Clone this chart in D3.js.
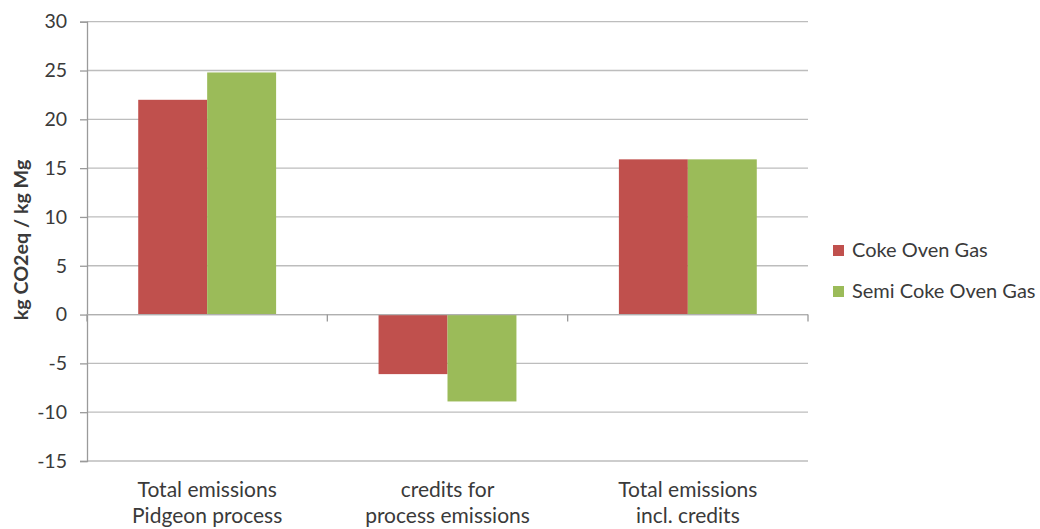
<!DOCTYPE html>
<html><head><meta charset="utf-8">
<script src="https://cdn.jsdelivr.net/npm/d3@7"></script>
<style>body{margin:0;background:#fff}svg{display:block}text{font-family:Lato,"Open Sans",sans-serif;fill:#3a3a3a}</style>
</head><body><svg id="c" width="1040" height="529"></svg>
<script>
const categories = [["Total emissions","Pidgeon process"],["credits for","process emissions"],["Total emissions","incl. credits"]];
const seriesNames = ["Coke Oven Gas","Semi Coke Oven Gas"];
const cokeOvenGas = [22.0, -6.1, 15.9];
const semiCokeOvenGas = [24.8, -8.9, 15.9];
const yTicks = [30,25,20,15,10,5,0,-5,-10,-15];
const colors = ["#C0504D","#9BBB59"];

const svg = d3.select("#c");
const L=87, R=808, T=21.7, B=461;
const y = d3.scaleLinear().domain([-15,30]).range([B,T]);
const x = d3.scaleBand().domain(d3.range(categories.length)).range([L,R]).paddingInner(0).paddingOuter(0);
const inner = d3.scaleBand().domain(d3.range(2)).range([0,x.bandwidth()]).paddingInner(0).paddingOuter(0.743);

// gridlines
svg.append("g").selectAll("line").data(yTicks).join("line")
 .attr("x1",L).attr("x2",R).attr("y1",d=>y(d)).attr("y2",d=>y(d))
 .attr("stroke","#bdbdbd").attr("stroke-width",1.3);

// y axis
const ya = svg.append("g").attr("transform",`translate(${L},0)`)
 .call(d3.axisLeft(y).tickValues(yTicks).tickSize(7).tickPadding(13).tickFormat(d=>String(d)));
ya.select(".domain").attr("stroke","#9a9a9a").attr("stroke-width",1.3);
ya.selectAll(".tick line").attr("stroke","#9a9a9a").attr("stroke-width",1.3);
ya.selectAll("text").style("font-size","19.5px").attr("fill","#3a3a3a");

// bars
const data = [cokeOvenGas, semiCokeOvenGas];
data.forEach((vals,s)=>{
  svg.append("g").selectAll("rect").data(vals).join("rect")
   .attr("x",(d,i)=>x(i)+inner(s)).attr("width",inner.bandwidth())
   .attr("y",d=>y(Math.max(0,d))).attr("height",d=>Math.abs(y(d)-y(0)))
   .attr("fill",colors[s]);
});

// zero axis line with category ticks
svg.append("line").attr("x1",L).attr("x2",R).attr("y1",y(0)).attr("y2",y(0)).attr("stroke","#b0b0b0").attr("stroke-width",1.3);
svg.append("g").selectAll("line").data(d3.range(categories.length+1)).join("line")
 .attr("x1",d=>L+d*x.bandwidth()).attr("x2",d=>L+d*x.bandwidth())
 .attr("y1",y(0)).attr("y2",y(0)+7).attr("stroke","#9a9a9a").attr("stroke-width",1.3);

// category labels
const cl = svg.append("g").selectAll("text").data(categories).join("text")
 .attr("x",(d,i)=>x(i)+x.bandwidth()/2).attr("y",497).attr("text-anchor","middle").style("font-size","21px");
cl.each(function(d){
  const t=d3.select(this);
  d.forEach((line,k)=>t.append("tspan").attr("x",t.attr("x")).attr("dy",k?26:0).text(line));
});

// y title
svg.append("text").attr("transform","translate(28,240) rotate(-90)").attr("text-anchor","middle")
 .style("font-size","19.7px").style("font-weight","bold").attr("fill","#111").text("kg CO2eq / kg Mg");

// legend
const lg = svg.append("g").selectAll("g").data(seriesNames).join("g")
 .attr("transform",(d,i)=>`translate(833,${245+i*41})`);
lg.append("rect").attr("width",11).attr("height",11).attr("fill",(d,i)=>colors[i]);
lg.append("text").attr("x",19).attr("y",12).style("font-size","20px").text(d=>d);
</script></body></html>
